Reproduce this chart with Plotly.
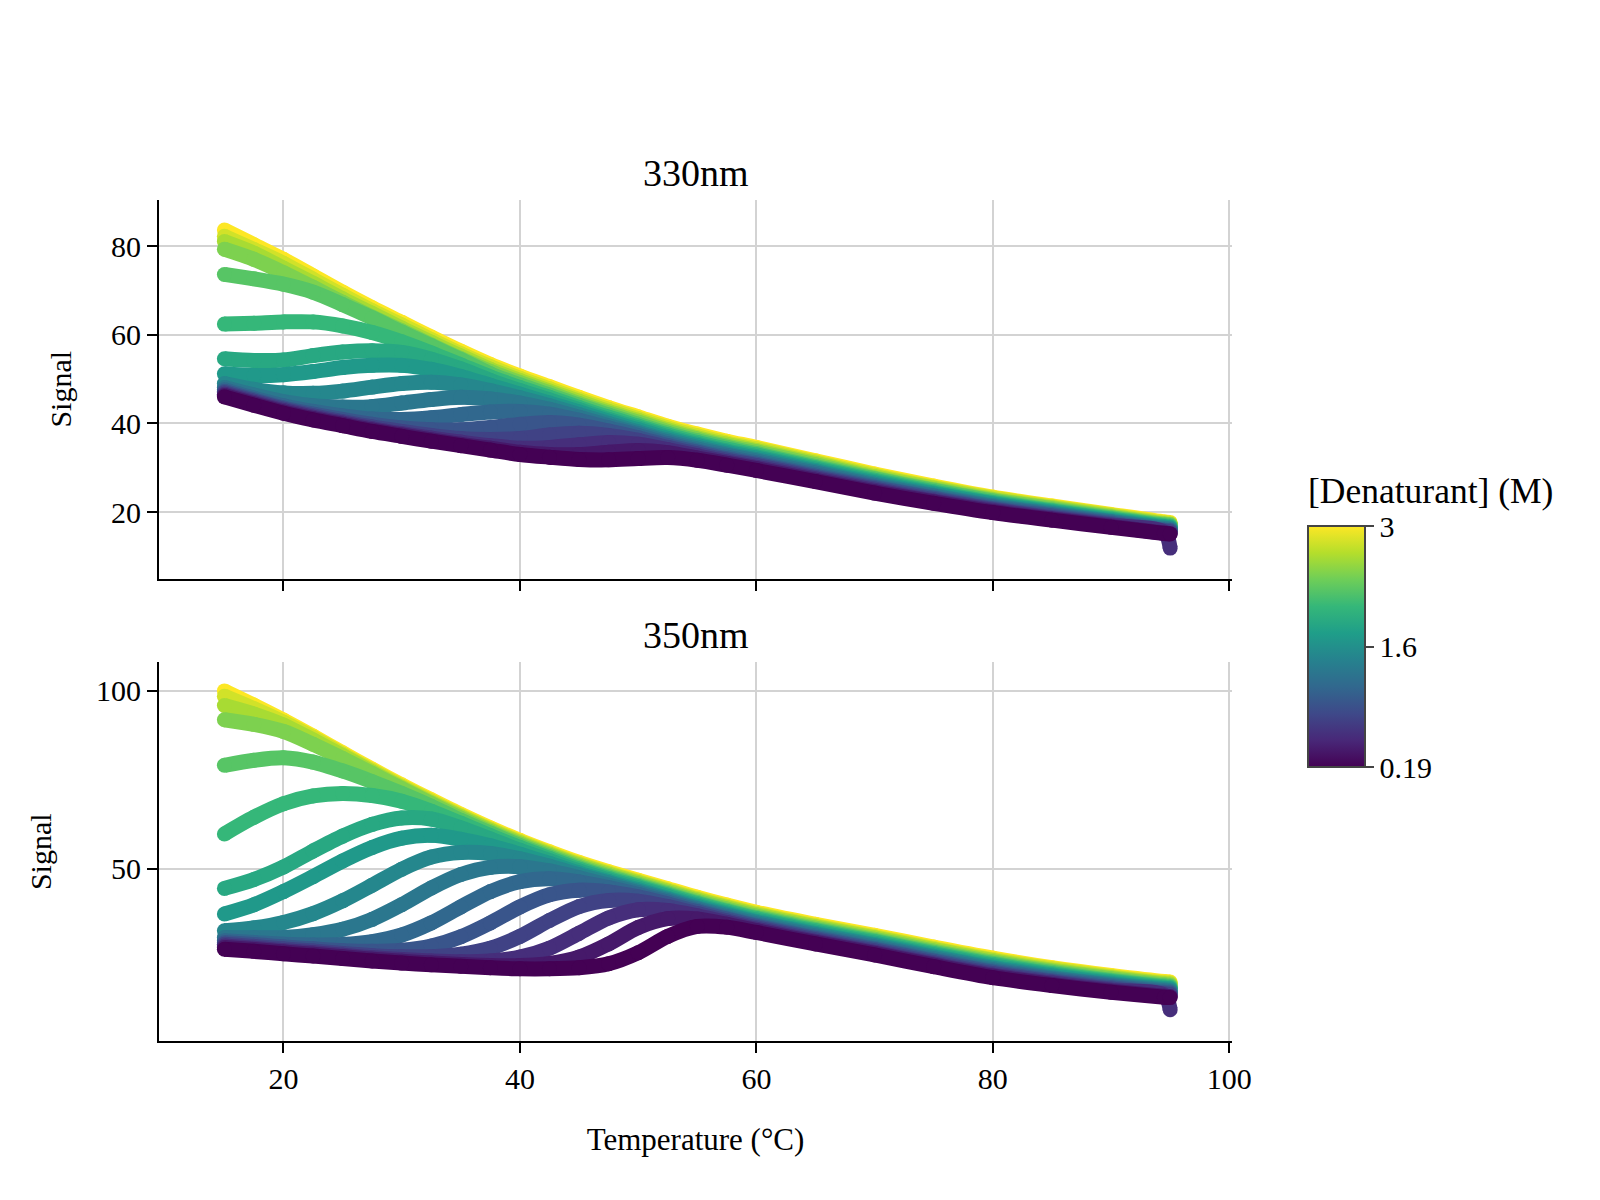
import plotly.graph_objects as go
from plotly.subplots import make_subplots
from plotly.colors import sample_colorscale

# ---------------- data ----------------
temperature_c = [15, 17.5, 20, 22.5, 25, 27.5, 30, 32.5, 35, 37.5, 40, 42.5, 45,
                 47.5, 50, 52.5, 55, 57.5, 60, 65, 70, 75, 80, 85, 90, 94.5, 95]

denaturant_m = [0.19, 0.38, 0.56, 0.75, 0.94, 1.13, 1.31, 1.50,
                1.69, 1.88, 2.06, 2.25, 2.44, 2.63, 2.81, 3.00]

# 330 nm signal, one list per denaturant concentration
s330_c01 = [46.0, 44.1, 42.3, 40.8, 39.5, 38.2, 37.1, 36.0, 35.0, 34.0, 33.0, 32.4, 31.9, 31.8, 32.1, 32.3, 31.7, 30.6, 29.4, 26.9, 24.3, 22.0, 19.9, 18.2, 16.6, 15.2, 15.1]
s330_c02 = [46.3, 44.4, 42.6, 41.1, 39.8, 38.5, 37.4, 36.3, 35.3, 34.4, 33.5, 33.0, 33.0, 33.5, 33.9, 33.4, 32.2, 31.0, 29.8, 27.2, 24.6, 22.3, 20.1, 18.4, 16.8, 15.3, 15.2]
s330_c03 = [46.6, 44.7, 42.9, 41.4, 40.1, 38.8, 37.7, 36.7, 35.8, 35.0, 34.4, 34.6, 35.2, 35.7, 35.3, 34.1, 32.7, 31.3, 30.1, 27.5, 24.9, 22.5, 20.4, 18.6, 17.0, 15.5, 11.9]
s330_c04 = [46.9, 45.0, 43.2, 41.7, 40.4, 39.2, 38.2, 37.3, 36.6, 36.4, 36.6, 37.4, 37.8, 37.3, 36.2, 34.6, 33.1, 31.7, 30.5, 27.8, 25.2, 22.8, 20.6, 18.8, 17.2, 15.7, 15.6]
s330_c05 = [47.2, 45.3, 43.5, 42.1, 40.9, 39.8, 39.0, 38.6, 38.6, 39.1, 39.8, 40.2, 39.6, 38.3, 36.8, 35.0, 33.5, 32.0, 30.8, 28.1, 25.5, 23.1, 20.8, 19.1, 17.4, 15.9, 15.8]
s330_c06 = [47.6, 45.7, 44.0, 42.7, 41.7, 41.0, 40.9, 41.3, 42.0, 42.6, 42.7, 42.1, 40.7, 39.0, 37.3, 35.4, 33.8, 32.4, 31.1, 28.4, 25.7, 23.3, 21.1, 19.3, 17.6, 16.0, 15.9]
s330_c07 = [48.1, 46.4, 44.9, 44.0, 43.7, 43.8, 44.6, 45.4, 45.9, 45.5, 44.6, 43.2, 41.4, 39.5, 37.7, 35.8, 34.2, 32.8, 31.5, 28.8, 26.0, 23.6, 21.3, 19.5, 17.8, 16.2, 16.1]
s330_c08 = [49.0, 47.7, 46.9, 46.8, 47.3, 48.2, 49.0, 49.3, 48.7, 47.4, 45.8, 44.0, 42.0, 40.0, 38.1, 36.2, 34.6, 33.1, 31.8, 29.1, 26.3, 23.8, 21.5, 19.7, 17.9, 16.4, 16.3]
s330_c09 = [51.2, 50.8, 51.0, 51.7, 52.6, 53.1, 53.1, 52.2, 50.6, 48.6, 46.6, 44.6, 42.6, 40.5, 38.6, 36.6, 35.0, 33.5, 32.2, 29.4, 26.6, 24.1, 21.8, 19.9, 18.1, 16.6, 16.5]
s330_c10 = [54.6, 54.2, 54.3, 55.3, 56.1, 56.4, 56.0, 54.5, 52.3, 49.7, 47.4, 45.3, 43.1, 40.9, 39.0, 37.0, 35.3, 33.8, 32.5, 29.7, 26.9, 24.3, 22.0, 20.1, 18.3, 16.7, 16.6]
s330_c11 = [62.4, 62.6, 62.9, 62.9, 62.0, 60.5, 58.4, 55.9, 53.2, 50.5, 48.1, 45.9, 43.6, 41.4, 39.4, 37.4, 35.7, 34.2, 32.9, 30.0, 27.2, 24.6, 22.2, 20.3, 18.5, 16.9, 16.8]
s330_c12 = [73.6, 72.6, 71.4, 69.6, 66.8, 63.8, 60.6, 57.5, 54.4, 51.2, 48.7, 46.4, 44.1, 41.9, 39.8, 37.8, 36.1, 34.6, 33.2, 30.3, 27.5, 24.9, 22.5, 20.5, 18.7, 17.1, 17.0]
s330_c13 = [79.3, 77.0, 74.0, 70.7, 67.3, 64.0, 60.9, 57.7, 54.6, 51.7, 49.2, 46.9, 44.5, 42.3, 40.3, 38.2, 36.5, 34.9, 33.6, 30.7, 27.7, 25.1, 22.7, 20.8, 18.9, 17.3, 17.2]
s330_c14 = [81.0, 78.4, 75.0, 71.6, 68.1, 64.8, 61.5, 58.3, 55.2, 52.2, 49.7, 47.3, 45.0, 42.7, 40.7, 38.6, 36.8, 35.3, 33.9, 31.0, 28.0, 25.4, 22.9, 21.0, 19.1, 17.4, 17.3]
s330_c15 = [82.2, 79.2, 76.1, 72.5, 68.9, 65.4, 62.2, 58.9, 55.7, 52.8, 50.2, 47.8, 45.4, 43.2, 41.1, 39.0, 37.2, 35.6, 34.3, 31.3, 28.3, 25.6, 23.2, 21.2, 19.3, 17.6, 17.5]
s330_c16 = [83.6, 80.3, 77.0, 73.3, 69.6, 66.1, 62.8, 59.5, 56.3, 53.3, 50.7, 48.3, 45.9, 43.6, 41.5, 39.4, 37.6, 36.0, 34.6, 31.6, 28.6, 25.9, 23.4, 21.4, 19.5, 17.8, 17.7]

# 350 nm signal, one list per denaturant concentration
s350_c01 = [27.4, 26.8, 26.1, 25.5, 24.8, 24.1, 23.5, 23.0, 22.6, 22.2, 21.9, 21.9, 22.2, 23.3, 26.4, 31.0, 33.8, 33.6, 32.1, 28.9, 25.8, 22.5, 19.4, 17.2, 15.3, 13.9, 13.8]
s350_c02 = [27.9, 27.3, 26.6, 26.0, 25.3, 24.6, 24.0, 23.5, 23.1, 22.8, 22.8, 23.4, 25.2, 28.9, 33.5, 36.0, 35.9, 34.4, 32.6, 29.3, 26.2, 22.9, 19.8, 17.5, 15.6, 14.2, 14.1]
s350_c03 = [28.3, 27.7, 27.0, 26.4, 25.7, 25.0, 24.5, 24.1, 23.9, 24.1, 25.2, 27.7, 31.9, 36.2, 38.5, 38.3, 36.8, 34.9, 33.0, 29.6, 26.5, 23.2, 20.1, 17.9, 15.9, 14.5, 10.4]
s350_c04 = [28.8, 28.2, 27.5, 26.9, 26.2, 25.6, 25.3, 25.3, 26.0, 27.7, 31.0, 35.5, 39.4, 41.1, 40.9, 39.4, 37.4, 35.3, 33.4, 30.0, 26.9, 23.6, 20.5, 18.2, 16.2, 14.8, 14.7]
s350_c05 = [29.2, 28.7, 28.0, 27.5, 27.0, 26.8, 27.1, 28.3, 30.9, 34.8, 39.3, 42.7, 44.0, 43.5, 42.1, 40.1, 37.9, 35.8, 33.8, 30.4, 27.3, 24.0, 20.9, 18.5, 16.6, 15.1, 15.0]
s350_c06 = [29.8, 29.3, 28.8, 28.6, 28.7, 29.5, 31.4, 34.8, 39.3, 43.6, 46.4, 47.2, 46.3, 44.7, 42.8, 40.6, 38.3, 36.1, 34.1, 30.7, 27.6, 24.3, 21.2, 18.9, 16.9, 15.4, 15.3]
s350_c07 = [30.7, 30.6, 30.7, 31.5, 33.0, 35.8, 39.9, 44.6, 48.4, 50.4, 50.6, 49.4, 47.5, 45.4, 43.3, 41.0, 38.7, 36.5, 34.5, 31.1, 28.0, 24.7, 21.6, 19.2, 17.2, 15.7, 15.6]
s350_c08 = [32.6, 33.4, 34.9, 37.4, 41.0, 45.4, 49.9, 53.3, 54.6, 54.3, 52.8, 50.7, 48.3, 46.0, 43.7, 41.4, 39.0, 36.9, 34.9, 31.5, 28.4, 25.1, 22.0, 19.5, 17.5, 16.0, 15.9]
s350_c09 = [37.3, 39.9, 43.6, 47.8, 52.2, 56.0, 58.6, 59.4, 58.3, 56.5, 54.1, 51.5, 48.8, 46.4, 44.1, 41.7, 39.4, 37.2, 35.2, 31.8, 28.7, 25.4, 22.3, 19.9, 17.8, 16.3, 16.2]
s350_c10 = [44.5, 47.0, 50.5, 55.0, 59.2, 62.5, 64.3, 64.0, 61.5, 58.4, 55.2, 52.3, 49.4, 46.9, 44.6, 42.2, 39.8, 37.6, 35.6, 32.2, 29.1, 25.8, 22.7, 20.2, 18.1, 16.5, 16.4]
s350_c11 = [59.8, 64.5, 68.3, 70.5, 71.2, 70.6, 69.0, 66.2, 62.8, 59.3, 56.0, 52.9, 49.9, 47.3, 45.0, 42.6, 40.2, 38.0, 36.0, 32.6, 29.5, 26.2, 23.1, 20.5, 18.4, 16.8, 16.7]
s350_c12 = [79.1, 80.5, 81.2, 80.0, 77.5, 74.5, 71.2, 67.6, 63.6, 60.0, 56.5, 53.3, 50.3, 47.7, 45.3, 42.9, 40.5, 38.3, 36.3, 32.9, 29.8, 26.5, 23.4, 20.9, 18.7, 17.1, 17.0]
s350_c13 = [91.9, 90.6, 88.6, 85.0, 81.0, 76.8, 72.5, 68.3, 64.2, 60.4, 56.9, 53.7, 50.7, 48.1, 45.7, 43.3, 40.9, 38.7, 36.7, 33.3, 30.2, 26.9, 23.8, 21.2, 19.1, 17.4, 17.3]
s350_c14 = [95.9, 93.5, 90.4, 86.2, 81.8, 77.2, 72.8, 68.6, 64.6, 60.8, 57.3, 54.1, 51.1, 48.5, 46.1, 43.7, 41.3, 39.1, 37.1, 33.7, 30.6, 27.3, 24.2, 21.5, 19.4, 17.7, 17.6]
s350_c15 = [98.5, 95.0, 91.2, 86.9, 82.2, 77.6, 73.2, 69.0, 64.9, 61.1, 57.6, 54.4, 51.4, 48.8, 46.4, 44.0, 41.6, 39.4, 37.4, 34.0, 30.9, 27.6, 24.5, 21.9, 19.7, 18.0, 17.9]
s350_c16 = [100.0, 96.0, 91.8, 87.3, 82.6, 78.0, 73.6, 69.4, 65.3, 61.5, 58.0, 54.8, 51.8, 49.2, 46.8, 44.4, 42.0, 39.8, 37.8, 34.4, 31.3, 28.0, 24.9, 22.2, 20.0, 18.3, 18.2]

panel_titles = ["330nm", "350nm"]
x_ticks = [20, 40, 60, 80, 100]
y_ticks_330 = [20, 40, 60, 80]
y_ticks_350 = [50, 100]
colorbar_title = "[Denaturant] (M)"
colorbar_tickvals = [0.19, 1.595, 3.0]
colorbar_ticktext = ["0.19", "1.6", "3"]

signal_330 = [s330_c01, s330_c02, s330_c03, s330_c04, s330_c05, s330_c06, s330_c07, s330_c08,
              s330_c09, s330_c10, s330_c11, s330_c12, s330_c13, s330_c14, s330_c15, s330_c16]
signal_350 = [s350_c01, s350_c02, s350_c03, s350_c04, s350_c05, s350_c06, s350_c07, s350_c08,
              s350_c09, s350_c10, s350_c11, s350_c12, s350_c13, s350_c14, s350_c15, s350_c16]

# ---------------- figure ----------------
FONT = "Liberation Serif, Times New Roman, Times, serif"
cmin, cmax = min(denaturant_m), max(denaturant_m)

fig = make_subplots(rows=2, cols=1, shared_xaxes=True, vertical_spacing=0.0998,
                    subplot_titles=panel_titles)

colorbar = dict(
    x=1.0708, xanchor="left", xpad=0,
    y=0.469, yanchor="middle", ypad=0,
    len=241, lenmode="pixels", thickness=57, thicknessmode="pixels",
    outlinewidth=2, outlinecolor="#444",
    tickmode="array", tickvals=colorbar_tickvals, ticktext=colorbar_ticktext,
    ticks="outside", ticklen=8, tickwidth=2, tickcolor="#444",
    tickfont=dict(size=30, family=FONT, color="black"),
)

for row, series in ((1, signal_330), (2, signal_350)):
    # high concentration first, so low concentrations are drawn on top
    for k in range(len(denaturant_m) - 1, -1, -1):
        conc = denaturant_m[k]
        values = series[k]
        col = sample_colorscale("Viridis", [(conc - cmin) / (cmax - cmin)])[0]
        marker = dict(size=15, color=[conc] * len(values), colorscale="Viridis",
                      cmin=cmin, cmax=cmax, line=dict(width=0))
        if row == 1 and k == 0:
            marker["showscale"] = True
            marker["colorbar"] = colorbar
        fig.add_trace(go.Scatter(
            x=temperature_c, y=values, mode="lines+markers",
            line=dict(color=col, width=15, shape="spline", smoothing=0.8),
            marker=marker, showlegend=False, hoverinfo="skip",
            name=f"{conc} M"), row=row, col=1)

axis_style = dict(showline=True, linecolor="black", linewidth=2, mirror=False,
                  ticks="outside", ticklen=10, tickwidth=2, tickcolor="black",
                  showgrid=True, gridcolor="#d3d3d3", gridwidth=2, zeroline=False,
                  tickfont=dict(size=30, family=FONT, color="black"), automargin=False)

fig.update_xaxes(**axis_style, range=[9.47, 100.23], tickmode="array", tickvals=x_ticks)
fig.update_xaxes(title=dict(text="Temperature (°C)", standoff=34,
                            font=dict(size=31, family=FONT, color="black")), row=2, col=1)
fig.update_yaxes(**axis_style)
fig.update_yaxes(range=[5.04, 90.38], tickmode="array", tickvals=y_ticks_330,
                 title=dict(text="Signal", standoff=30,
                            font=dict(size=30, family=FONT, color="black")), row=1, col=1)
fig.update_yaxes(range=[1.6, 108.0], tickmode="array", tickvals=y_ticks_350,
                 title=dict(text="Signal", standoff=35,
                            font=dict(size=30, family=FONT, color="black")), row=2, col=1)

fig.update_annotations(font=dict(size=38, family=FONT, color="black"), yshift=4)

# colour-bar title, placed just above the bar
fig.add_annotation(text=colorbar_title, xref="paper", yref="paper",
                   x=1.0708, y=0.6504, xanchor="left", yanchor="middle",
                   xshift=-2, yshift=3, showarrow=False,
                   font=dict(size=35.5, family=FONT, color="black"))

fig.update_layout(
    width=1600, height=1200,
    margin=dict(l=159, r=368, t=200, b=159, autoexpand=False),
    paper_bgcolor="white", plot_bgcolor="white",
    font=dict(family=FONT, color="black", size=30),
    showlegend=False,
)

fig.write_html("out.html")
